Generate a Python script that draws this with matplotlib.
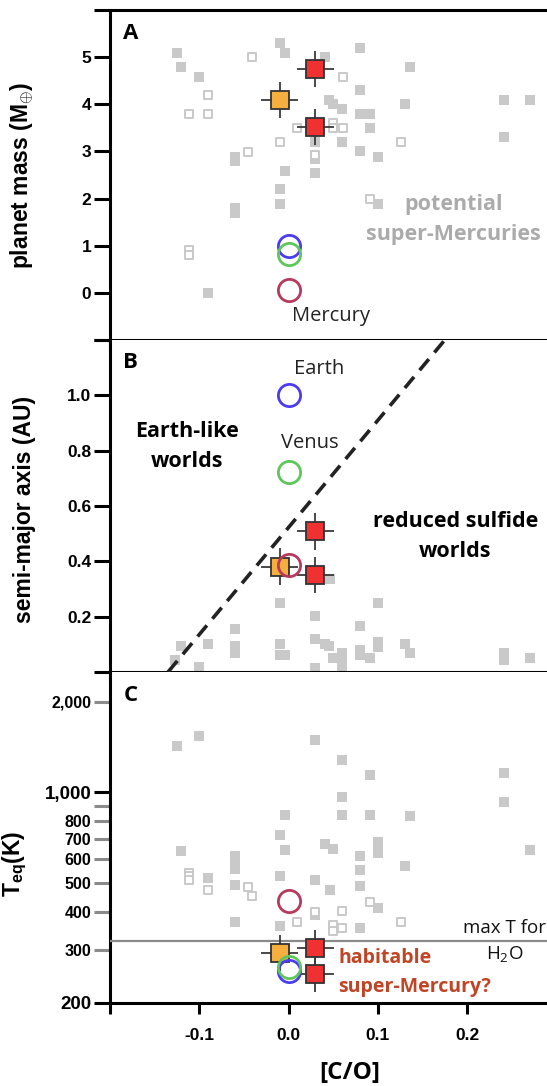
import matplotlib
matplotlib.use('Agg')
import matplotlib.pyplot as plt
import numpy as np

# ---------------- data ----------------
# Panel A: planet mass vs [C/O]
a_fill_co = [-0.125, -0.121, -0.100, -0.060, -0.060, -0.060, -0.060, -0.090, -0.010, -0.004,
             -0.004, -0.010, -0.010, 0.041, 0.080, 0.045, 0.050, 0.060, 0.060, 0.080,
             0.080, 0.091, 0.091, 0.080, 0.100, 0.030, 0.030, 0.030, 0.100, 0.136,
             0.131, 0.241, 0.271, 0.241]
a_fill_mass = [5.09, 4.79, 4.58, 2.89, 2.80, 1.80, 1.69, 0.0, 5.30, 5.09,
               2.58, 2.20, 1.89, 5.0, 5.19, 4.10, 4.00, 3.89, 3.20, 4.30,
               3.79, 3.79, 3.49, 3.00, 2.89, 3.20, 2.54, 2.85, 1.89, 4.79,
               4.00, 4.09, 4.09, 3.30]
a_open_co = [-0.041, -0.090, -0.111, -0.090, -0.045, -0.010, 0.009, 0.050, 0.050, 0.061,
             0.061, 0.126, 0.091, -0.111, -0.111, 0.030]
a_open_mass = [5.0, 4.19, 3.79, 3.79, 2.99, 3.20, 3.50, 3.61, 3.50, 3.50,
               4.58, 3.20, 1.99, 0.90, 0.80, 2.93]

# Panel B: semi-major axis vs [C/O]
b_fill_co = [0.046, -0.010, 0.030, 0.100, 0.080, -0.060, -0.090, -0.120, -0.127, -0.100,
             -0.060, -0.060, -0.010, -0.010, -0.004, 0.030, 0.041, 0.045, 0.050, 0.060,
             0.060, 0.060, 0.030, 0.080, 0.080, 0.091, 0.100, 0.100, 0.130, 0.136,
             0.241, 0.241, 0.271]
b_fill_a = [0.335, 0.25, 0.202, 0.25, 0.166, 0.154, 0.103, 0.094, 0.045, 0.019,
            0.094, 0.067, 0.101, 0.061, 0.061, 0.121, 0.103, 0.094, 0.049, 0.067,
            0.033, 0.013, 0.013, 0.079, 0.061, 0.049, 0.109, 0.091, 0.103, 0.067,
            0.067, 0.045, 0.049]
# boundary between Earth-like and reduced sulfide worlds
boundary_co = [-0.135, 0.175]
boundary_a = [0.0, 1.2]

# Panel C: equilibrium temperature vs [C/O]
c_fill_co = [-0.125, -0.100, 0.030, 0.060, 0.091, 0.241, 0.241, 0.060, -0.004, 0.060,
             0.091, 0.136, -0.010, -0.004, -0.121, 0.041, 0.050, -0.060, -0.060, -0.060,
             0.100, 0.100, 0.100, 0.080, 0.080, 0.130, -0.010, -0.090, -0.060, 0.030,
             0.080, 0.046, 0.100, 0.030, -0.060, -0.010, 0.080, 0.271]
c_fill_teq = [1430, 1540, 1490, 1280, 1140, 1155, 930, 962, 838, 838,
              838, 834, 724, 642, 640, 671, 650, 612, 584, 558,
              686, 655, 630, 612, 554, 568, 526, 518, 492, 510,
              489, 472, 412, 391, 372, 360, 354, 642]
c_open_co = [-0.111, -0.111, -0.111, -0.090, -0.045, -0.041, 0.009, 0.030, 0.060, 0.060,
             0.050, 0.050, 0.091, 0.126]
c_open_teq = [541, 527, 510, 472, 484, 452, 372, 399, 402, 354,
              362, 345, 433, 372]

# Highlighted planets (orange, red, red)
sel_co = [-0.010, 0.030, 0.030]
sel_mass = [4.09, 4.75, 3.52]
sel_a = [0.381, 0.508, 0.351]
sel_teq = [293, 303, 249]
sel_co_err = 0.021
sel_mass_err = 0.39
sel_a_err = 0.066
sel_teq_err_dex = 0.06

# Solar-system planets
ss_names = ['Mercury', 'Venus', 'Earth']
ss_co = [0.0, 0.0, 0.0]
ss_mass = [0.055, 0.815, 1.0]
ss_a = [0.387, 0.723, 1.0]
ss_teq = [435, 262, 255]

h2o_max_t = 320

# ---------------- style ----------------
plt.rcParams['font.family'] = ['Liberation Sans', 'DejaVu Sans']
plt.rcParams['mathtext.fontset'] = 'custom'
plt.rcParams['mathtext.rm'] = 'Open Sans'
plt.rcParams['mathtext.it'] = 'Open Sans:italic'
plt.rcParams['mathtext.bf'] = 'Liberation Sans:bold'

GRAY = '#c9c9c9'
SEL_COLORS = ['#f6ae3f', '#ef3131', '#ef3131']
SS_COLORS = {'Mercury': '#b9395c', 'Venus': '#5ec65a', 'Earth': '#4b3cf2'}
ANN = 'Open Sans'
LW = 2.2

W, H = 547, 1086
fig = plt.figure(figsize=(W / 100, H / 100), dpi=100)
left = 110 / W
width = 1 - left
def fy(px):
    return 1 - px / H

axA = fig.add_axes([left, fy(340), width, (340 - 10) / H])
axB = fig.add_axes([left, fy(672), width, (672 - 340) / H])
axC = fig.add_axes([left, fy(1002.7), width, (1002.7 - 672) / H])

XLIM = (-0.2, 0.2895)
for ax in (axA, axB, axC):
    ax.set_xlim(*XLIM)
    ax.spines['right'].set_visible(False)
    for s in ('left', 'top', 'bottom'):
        ax.spines[s].set_linewidth(LW)
    ax.set_xticks([-0.2, -0.1, 0.0, 0.1, 0.2])
    ax.tick_params(axis='x', direction='out', length=8, width=LW, bottom=True, top=False)
    ax.tick_params(axis='y', direction='out', length=11.5, width=LW, labelsize=12.5, pad=2)

axA.tick_params(axis='x', labelbottom=False)
axB.tick_params(axis='x', labelbottom=False)
axC.set_xticklabels(['', '-0.1', '0.0', '0.1', '0.2'], fontweight='bold', fontsize=12.5)
axC.tick_params(axis='x', pad=10)
axB.spines['top'].set_visible(False)
axC.spines['top'].set_visible(False)

def gray_points(ax, fx, fy_, ox, oy):
    ax.scatter(fx, fy_, marker='s', s=52, color=GRAY, linewidths=0, zorder=2)
    ax.scatter(ox, oy, marker='s', s=40, facecolor='white', edgecolor=GRAY, linewidths=1.4, zorder=2)

def selected(ax, yvals, yerr):
    for i in range(len(sel_co)):
        ax.errorbar(sel_co[i], yvals[i], xerr=sel_co_err, yerr=yerr, fmt='none',
                    ecolor='#3a3a3a', elinewidth=1.3, capsize=0, zorder=4)
        ax.plot(sel_co[i], yvals[i], marker='s', ms=13, mfc=SEL_COLORS[i], mec='#333333',
                mew=1.3, zorder=5, linestyle='none')

def solar(ax, yvals, order=('Mercury', 'Earth', 'Venus')):
    for name in order:
        i = ss_names.index(name)
        ax.plot(ss_co[i], yvals[i], marker='o', ms=16, mfc='none', mec=SS_COLORS[name],
                mew=2.0, zorder=6, linestyle='none')

# ---- Panel A ----
axA.set_ylim(-1, 6)
axA.set_yticks([-1, 0, 1, 2, 3, 4, 5, 6])
axA.set_yticklabels(['', '0', '1', '2', '3', '4', '5', ''], fontweight='bold')
gray_points(axA, a_fill_co, a_fill_mass, a_open_co, a_open_mass)
selected(axA, sel_mass, sel_mass_err)
solar(axA, ss_mass)
axA.set_ylabel(r'planet mass (M$_{\oplus}$)', fontsize=16.5, fontweight='bold')
axA.yaxis.set_label_coords(-0.17, 0.5)
axA.text(-0.177, 5.5, 'A', fontfamily=ANN, fontweight='bold', fontsize=16, va='center', ha='center')
axA.text(0.048, -0.49, 'Mercury', fontfamily=ANN, fontsize=14.5, va='center', ha='center', color='#222222')
axA.text(0.185, 1.87, 'potential', fontfamily=ANN, fontweight='bold', fontsize=15.5,
         va='center', ha='center', color='#ababab')
axA.text(0.185, 1.23, 'super-Mercuries', fontfamily=ANN, fontweight='bold', fontsize=15.5,
         va='center', ha='center', color='#ababab')

# ---- Panel B ----
axB.set_ylim(0, 1.2)
axB.set_yticks([0, 0.2, 0.4, 0.6, 0.8, 1.0, 1.2])
axB.set_yticklabels(['', '0.2', '0.4', '0.6', '0.8', '1.0', ''], fontweight='bold')
axB.scatter(b_fill_co, b_fill_a, marker='s', s=52, color=GRAY, linewidths=0, zorder=2)
axB.plot(boundary_co, boundary_a, color='#222222', lw=2.6, dashes=(4, 2.4), zorder=3,
         solid_capstyle='butt')
selected(axB, sel_a, sel_a_err)
solar(axB, ss_a)
axB.set_ylabel('semi-major axis (AU)', fontsize=16.5, fontweight='bold')
axB.yaxis.set_label_coords(-0.17, 0.49)
axB.text(-0.177, 1.12, 'B', fontfamily=ANN, fontweight='bold', fontsize=16, va='center', ha='center')
axB.text(0.034, 1.094, 'Earth', fontfamily=ANN, fontsize=14.5, va='center', ha='center', color='#222222')
axB.text(0.024, 0.826, 'Venus', fontfamily=ANN, fontsize=14.5, va='center', ha='center', color='#222222')
axB.text(-0.114, 0.87, 'Earth-like', fontfamily=ANN, fontweight='bold', fontsize=15.5, va='center', ha='center')
axB.text(-0.114, 0.76, 'worlds', fontfamily=ANN, fontweight='bold', fontsize=15.5, va='center', ha='center')
axB.text(0.187, 0.545, 'reduced sulfide', fontfamily=ANN, fontweight='bold', fontsize=15.5, va='center', ha='center')
axB.text(0.187, 0.435, 'worlds', fontfamily=ANN, fontweight='bold', fontsize=15.5, va='center', ha='center')

# ---- Panel C ----
axC.set_yscale('log')
axC.set_ylim(200, 2510)
axC.yaxis.set_major_locator(matplotlib.ticker.FixedLocator([200, 1000]))
axC.yaxis.set_major_formatter(matplotlib.ticker.FixedFormatter(['200', '1,000']))
axC.yaxis.set_minor_locator(matplotlib.ticker.FixedLocator([300, 400, 500, 600, 700, 800, 900, 2000]))
axC.yaxis.set_minor_formatter(matplotlib.ticker.FixedFormatter(['300', '400', '500', '600', '700', '800', '', '2,000']))
axC.tick_params(axis='y', which='major', labelsize=13.5)
axC.tick_params(axis='y', which='minor', direction='out', length=11.5, width=LW,
                color='#8a8a8a', labelsize=11.5, pad=2)
for lab in axC.get_yticklabels(which='both'):
    lab.set_fontweight('bold')
gray_points(axC, c_fill_co, c_fill_teq, c_open_co, c_open_teq)
axC.axhline(h2o_max_t, color='#8a8a8a', lw=1.6, zorder=3)
teq_err = [[t - t / 10 ** sel_teq_err_dex for t in sel_teq], [t * 10 ** sel_teq_err_dex - t for t in sel_teq]]
for i in range(len(sel_co)):
    axC.errorbar(sel_co[i], sel_teq[i], xerr=sel_co_err,
                 yerr=[[teq_err[0][i]], [teq_err[1][i]]], fmt='none',
                 ecolor='#3a3a3a', elinewidth=1.3, capsize=0, zorder=4)
    axC.plot(sel_co[i], sel_teq[i], marker='s', ms=13, mfc=SEL_COLORS[i], mec='#333333',
             mew=1.3, zorder=5, linestyle='none')
solar(axC, ss_teq, order=('Mercury', 'Earth', 'Venus'))
axC.set_ylabel(r'$\mathbf{T_{eq}}$(K)', fontsize=16.5, fontweight='bold')
axC.yaxis.set_label_coords(-0.185, 0.42)
axC.text(-0.177, 2100, 'C', fontfamily=ANN, fontweight='bold', fontsize=16, va='center', ha='center')
axC.text(0.195, 354, 'max T for', fontfamily=ANN, fontsize=13.5, va='center', ha='left', color='#111111')
axC.text(0.2425, 290, r'H$_2$O', fontfamily=ANN, fontsize=13.5, va='center', ha='center', color='#111111')
axC.text(0.056, 281, 'habitable', fontfamily=ANN, fontweight='bold', fontsize=14,
         va='center', ha='left', color='#bf4526')
axC.text(0.056, 226, 'super-Mercury?', fontfamily=ANN, fontweight='bold', fontsize=14,
         va='center', ha='left', color='#bf4526')
fig.text(350 / W, fy(1073), '[C/O]', fontfamily=ANN, fontweight='bold', fontsize=17.5,
         ha='center', va='center')

fig.savefig('out.png', dpi=100)
